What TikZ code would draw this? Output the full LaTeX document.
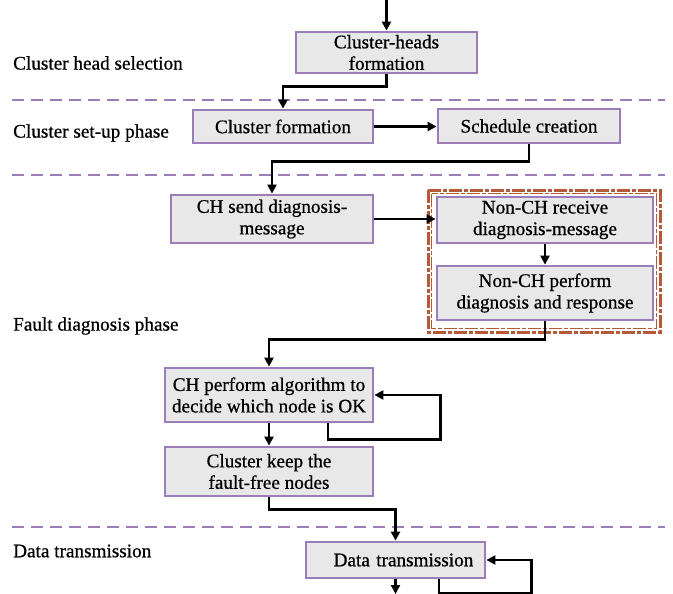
\documentclass[tikz,border=0pt]{standalone}
\usepackage{fontspec}
\setmainfont{Liberation Serif}
\newfontfamily\heavyserif{Liberation Serif}[FakeBold=0.7]
\usetikzlibrary{arrows.meta}
\definecolor{boxpurple}{RGB}{155,125,185}
\definecolor{boxgray}{RGB}{232,232,232}
\definecolor{framebrown}{RGB}{180,90,55}
\tikzset{
	stepbox/.style={draw=boxpurple, fill=boxgray, line width=2.8pt, align=center, inner sep=0pt},
	phase/.style={anchor=west, inner sep=0pt},
	sepline/.style={draw=boxpurple, line width=2.8pt, dash pattern=on 12pt off 7pt},
	arr/.style={line width=2.6pt, -{Triangle[length=9pt,width=9pt]}},
}
\begin{document}
\begin{tikzpicture}[x=1pt, y=-1pt, font=\heavyserif\fontsize{19.2}{21.5}\selectfont]
			%%%%% START %%%%%
			\useasboundingbox (0, 0) rectangle (673, 594);
			
			% phase separators
			\draw[sepline] (12, 100) -- (665, 100);
			\draw[sepline] (12, 175) -- (665, 175);
			\draw[sepline] (12, 527) -- (665, 527);
			
			% phase labels
			\node[phase] (lblsel) at (13, 63) {Cluster head selection};
			\node[phase] (lblset) at (13, 133) {Cluster set-up phase};
			\node[phase] (lblfd) at (13, 326) {Fault diagnosis phase};
			\node[phase] (lbldt) at (13, 551) {Data transmission};
			
			% frame round the non-CH steps
			\draw[framebrown, line width=3pt, dash pattern=on 13pt off 2pt on 4pt off 2pt] (428, 190) rectangle (660, 332);
			\draw[framebrown, line width=1.1pt, dash pattern=on 13pt off 2pt on 4pt off 2pt] (431.5, 193.5) rectangle (656.5, 328.5);
			
			% steps
			\node[stepbox, minimum width=181pt, minimum height=41pt] (chf) at (386.5, 52.5) {Cluster-heads\\formation};
			\node[stepbox, minimum width=180pt, minimum height=33pt] (clf) at (283, 126.5) {Cluster formation};
			\node[stepbox, minimum width=182pt, minimum height=34pt] (sch) at (529, 126) {Schedule creation};
			\node[stepbox, minimum width=202pt, minimum height=48pt] (chs) at (272, 219) {CH send diagnosis-\\message};
			\node[stepbox, minimum width=216pt, minimum height=46pt] (ncr) at (545, 220) {Non-CH receive\\diagnosis-message};
			\node[stepbox, minimum width=216pt, minimum height=54pt] (ncp) at (545, 293) {Non-CH perform\\diagnosis and response};
			\node[stepbox, minimum width=208pt, minimum height=54pt] (cpa) at (269, 395) {CH perform algorithm to\\decide which node is OK};
			\node[stepbox, minimum width=208pt, minimum height=49pt] (ckf) at (269, 471.5) {Cluster keep the\\fault-free nodes};
			\node[stepbox, minimum width=179pt, minimum height=36pt, text width=179pt] (dt) at (395.5, 560) {\hspace*{16pt}Data transmission};
			
			\coordinate (start) at (386.5, 0);
			\coordinate (finish) at (395.5, 594);
			
			% connectors
			\draw[arr] (start) -- (chf.north);
			\draw[arr] (chf.south) -- ++(0, 12) -| (clf.north);
			\draw[arr] (clf.east) -- (sch.west |- clf.east);
			\draw[arr] (sch.south) -- ++(0, 17) -| (chs.north);
			\draw[arr] (chs.east) -- (chs.east -| ncr.west);
			\draw[arr] (ncr.south) -- (ncp.north);
			\draw[arr] (ncp.south) -- ++(0, 18) -| (cpa.north);
			\draw[arr] ([xshift=59pt]cpa.south) -- ++(0, 16) -| ([xshift=66pt]cpa.east) -- (cpa.east);
			\draw[arr] (cpa.south) -- (ckf.north);
			\draw[arr] (ckf.south) -- ++(0, 12) -| (dt.north);
			\draw[arr] (dt.south) -- (finish);
			\draw[arr] ([xshift=43.5pt]dt.south) -- ++(0, 14) -| ([xshift=45pt]dt.east) -- (dt.east);
			
			%%%%% END %%%%%
\end{tikzpicture}
\end{document}
